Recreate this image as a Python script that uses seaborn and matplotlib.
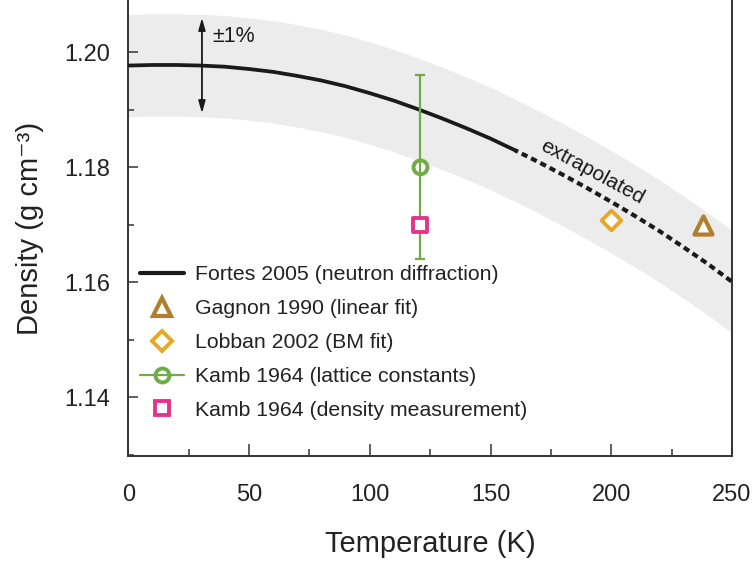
import numpy as np
import pandas as pd
import matplotlib
matplotlib.use("Agg")
import matplotlib.pyplot as plt
import seaborn as sns
from matplotlib.lines import Line2D

# ---------------- data ----------------
temperature = [0, 10, 20, 30, 40, 50, 60, 70, 80, 90, 100, 110, 120, 130,
               140, 150, 160, 170, 180, 190, 200, 210, 220, 230, 240, 250]
fortes_density = [1.1977, 1.1978, 1.1978, 1.1977, 1.1975, 1.1971, 1.1966,
                  1.1959, 1.1951, 1.1941, 1.1929, 1.1916, 1.1901, 1.1885,
                  1.1868, 1.1850, 1.1830, 1.1809, 1.1787, 1.1764, 1.1740,
                  1.1715, 1.1689, 1.1661, 1.1632, 1.1601]
band_half_width = 0.0089
measured_limit_T = 160

gagnon_T = [238]
gagnon_D = [1.170]
lobban_T = [200]
lobban_D = [1.1708]
kamb_lat_T = [121]
kamb_lat_D = [1.180]
kamb_lat_err = [0.016]
kamb_den_T = [121]
kamb_den_D = [1.170]

legend_labels = ["Fortes 2005 (neutron diffraction)",
                 "Gagnon 1990 (linear fit)",
                 "Lobban 2002 (BM fit)",
                 "Kamb 1964 (lattice constants)",
                 "Kamb 1964 (density measurement)"]

x_ticks = [0, 50, 100, 150, 200, 250]
y_ticks = [1.14, 1.16, 1.18, 1.20]

# ---------------- style ----------------
sns.set_theme(style="ticks")
plt.rcParams["font.family"] = ["Liberation Sans", "DejaVu Sans"]
plt.rcParams["mathtext.fontset"] = "custom"
plt.rcParams["mathtext.rm"] = "Liberation Sans"

black = "#1a1a1a"
green = "#70ac45"
pink = "#e5338c"
orange = "#e8a826"
brown = "#b07e2c"
band_col = "#ececec"

df = pd.DataFrame({"T": temperature, "D": fortes_density})
meas = df[df["T"] <= measured_limit_T]
extr = df[df["T"] >= measured_limit_T]

fig = plt.figure(figsize=(7.56, 5.68), dpi=100)
ax = fig.add_axes([128.3 / 756, 112 / 568, 603.7 / 756, 456 / 568])

ax.fill_between(df["T"], df["D"] - band_half_width, df["D"] + band_half_width,
                color=band_col, lw=0, zorder=0)

sns.lineplot(data=meas, x="T", y="D", ax=ax, color=black, lw=2.7,
             estimator=None, sort=False, zorder=3)
sns.lineplot(data=extr, x="T", y="D", ax=ax, color=black, lw=3.0,
             linestyle=(0.6, (1.5, 1.0)), estimator=None, sort=False, zorder=3)

ax.errorbar(kamb_lat_T, kamb_lat_D, yerr=kamb_lat_err, fmt="none",
            ecolor=green, elinewidth=1.6, capsize=3.6, capthick=1.6, zorder=4)
sns.scatterplot(x=kamb_lat_T, y=kamb_lat_D, ax=ax, marker="o", s=100,
                facecolor="none", edgecolor=green, linewidth=2.8, zorder=5)
sns.scatterplot(x=kamb_den_T, y=kamb_den_D, ax=ax, marker="s", s=90,
                facecolor="white", edgecolor=pink, linewidth=2.8, zorder=5)
sns.scatterplot(x=lobban_T, y=lobban_D, ax=ax, marker="D", s=100,
                facecolor="white", edgecolor=orange, linewidth=2.8, zorder=5)
sns.scatterplot(x=gagnon_T, y=gagnon_D, ax=ax, marker="^", s=170,
                facecolor="white", edgecolor=brown, linewidth=3.0, zorder=5)

# annotations
ax.annotate("", xy=(30.5, 1.2060), xytext=(30.5, 1.1894),
            arrowprops=dict(arrowstyle="<|-|>,head_length=0.6,head_width=0.17",
                            color=black, lw=1.3, shrinkA=0, shrinkB=0))
ax.text(35.0, 1.2027, "±1%", fontsize=15.5, color=black, ha="left", va="center")
ax.text(192.3, 1.1792, "extrapolated", fontsize=15, color=black,
        rotation=-28.5, rotation_mode="anchor", ha="center", va="center")

# legend
handles = [
    Line2D([], [], color=black, lw=3.0),
    Line2D([], [], ls="none", marker="^", ms=13, mfc="white", mec=brown, mew=3.0),
    Line2D([], [], ls="none", marker="D", ms=10, mfc="white", mec=orange, mew=2.8),
    Line2D([], [], color=green, lw=1.6, marker="o", ms=10, mfc="none", mec=green, mew=2.8),
    Line2D([], [], ls="none", marker="s", ms=9.5, mfc="white", mec=pink, mew=2.8),
]
leg = ax.legend(handles, legend_labels, loc="upper left",
                bbox_to_anchor=(0.019, 0.418), frameon=False, fontsize=15.3,
                borderpad=0, borderaxespad=0, handlelength=2.1,
                handletextpad=0.5, labelspacing=0.70)
for t in leg.get_texts():
    t.set_color("#222222")

# axes
ax.set_xlim(0, 250)
ax.set_ylim(1.1298, 1.2091)
ax.set_xticks(x_ticks)
ax.set_xticks([25, 75, 125, 175, 225], minor=True)
ax.set_yticks(y_ticks)
ax.set_yticks([1.13, 1.15, 1.17, 1.19], minor=True)
ax.set_xticklabels([str(v) for v in x_ticks])
ax.set_yticklabels([f"{v:.2f}" for v in y_ticks])

ax.spines["top"].set_visible(False)
for s in ["left", "bottom", "right"]:
    ax.spines[s].set_linewidth(1.4)
    ax.spines[s].set_color("#333333")

ax.tick_params(axis="both", which="both", direction="in", color="#333333",
               labelcolor="#222222", labelsize=17)
ax.tick_params(axis="x", which="major", length=9, width=1.1, pad=20)
ax.tick_params(axis="x", which="minor", length=5, width=1.1)
ax.tick_params(axis="y", which="major", length=7, width=1.1, pad=13)
ax.tick_params(axis="y", which="minor", length=4, width=1.1)
ax.tick_params(axis="y", which="both", right=False)

ax.set_xlabel("Temperature (K)", fontsize=21, color="#222222")
ax.set_ylabel("Density (g cm\u207b\u00b3)", fontsize=21, color="#222222")
ax.xaxis.set_label_coords(0.5, -0.163)
ax.yaxis.set_label_coords(-0.140, 0.5)

fig.savefig("out.png", dpi=100)
